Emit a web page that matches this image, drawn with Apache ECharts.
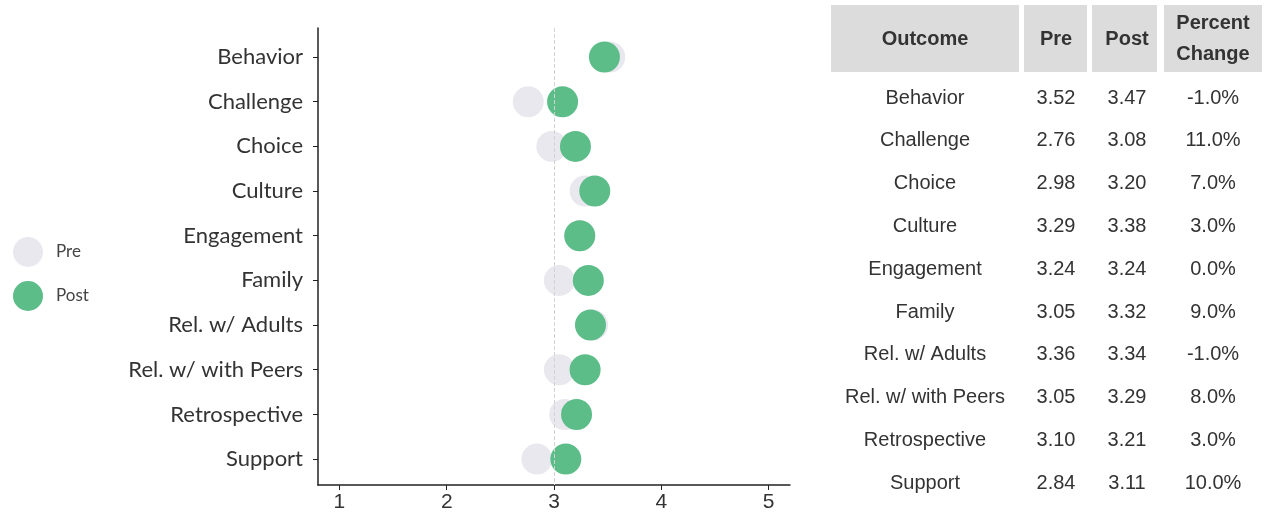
<!DOCTYPE html>
<html>
<head>
<meta charset="utf-8">
<script src="https://cdn.jsdelivr.net/npm/echarts@6/dist/echarts.min.js"></script>
<style>
html,body{margin:0;padding:0;background:#fff;}
#main{width:1264px;height:519px;}
</style>
</head>
<body>
<div id="main"></div>
<script>
var categories = ['Behavior','Challenge','Choice','Culture','Engagement','Family','Rel. w/ Adults','Rel. w/ with Peers','Retrospective','Support'];
var preValues = [3.52,2.76,2.98,3.29,3.24,3.05,3.36,3.05,3.10,2.84];
var postValues = [3.47,3.08,3.20,3.38,3.24,3.32,3.34,3.29,3.21,3.11];
var pctChange = [-1.0,11.0,7.0,3.0,0.0,9.0,-1.0,8.0,3.0,10.0];
var xTicks = [1,2,3,4,5];
var tableHeaders = ['Outcome','Pre','Post','Percent\nChange'];

var chart = echarts.init(document.getElementById('main'));

var preData = categories.map(function(c,i){return [preValues[i], i];});
var postData = categories.map(function(c,i){return [postValues[i], i];});
var catIdx = categories.map(function(c,i){return i;});

// table graphics
var colX = [925, 1056, 1127, 1213];
var headBoxes = [[831,188],[1024,63],[1092,65],[1164,98]];
var graphics = [];
headBoxes.forEach(function(b,j){
  graphics.push({type:'rect', shape:{x:b[0], y:5, width:b[1], height:67}, style:{fill:'#dcdcdc'}, silent:true});
  graphics.push({type:'text', x:colX[j], y:39, style:{text:tableHeaders[j], fill:'#333', font:'bold 20px "Liberation Sans", Arial, sans-serif', align:'center', verticalAlign:'middle', lineHeight:31}, silent:true});
});
categories.forEach(function(c,i){
  var y = 98 + i*42.8;
  var vals = [c, preValues[i].toFixed(2), postValues[i].toFixed(2), pctChange[i].toFixed(1)+'%'];
  vals.forEach(function(v,j){
    graphics.push({type:'text', x:colX[j], y:y, style:{text:v, fill:'#333', font:'20px "Liberation Sans", Arial, sans-serif', align:'center', verticalAlign:'middle'}, silent:true});
  });
});

chart.setOption({
  animation:false,
  backgroundColor:'#fff',
  legend:{
    orient:'vertical', left:8, top:232,
    itemWidth:30, itemHeight:30, itemGap:14,
    icon:'circle',
    textStyle:{fontFamily:'Lato', fontSize:17, color:'#444', padding:[0,0,0,8]},
    data:['Pre','Post']
  },
  grid:{left:318, right:474, top:28, bottom:34},
  xAxis:{
    type:'value', min:0.8, max:5.2,
    splitLine:{show:false},
    axisLine:{show:true, onZero:false, lineStyle:{color:'#222', width:1.5}},
    axisTick:{show:true, length:5, lineStyle:{color:'#222'}, customValues:xTicks},
    axisLabel:{customValues:xTicks, color:'#333', fontSize:21, fontFamily:'Liberation Sans', margin:7}
  },
  yAxis:{
    type:'value', inverse:true, min:-0.65, max:9.58,
    splitLine:{show:false},
    axisLine:{show:true, onZero:false, lineStyle:{color:'#222', width:1.5}},
    axisTick:{show:true, length:5, lineStyle:{color:'#222'}, customValues:catIdx},
    axisLabel:{customValues:catIdx, formatter:function(v){return categories[Math.round(v)];}, color:'#333', fontSize:22, fontFamily:'Lato', margin:15}
  },
  series:[
    {
      name:'Pre', type:'scatter', data:preData, symbolSize:31,
      itemStyle:{color:'#eae8ef', opacity:1},
      z:2,
      markLine:{
        silent:true, symbol:'none', label:{show:false},
        lineStyle:{color:'#d2d2d2', type:'dashed', width:1},
        data:[{xAxis:3}]
      }
    },
    {
      name:'Post', type:'scatter', data:postData, symbolSize:31,
      itemStyle:{color:'#5cbd88', opacity:1},
      z:3
    }
  ],
  graphic:graphics
});
</script>
</body>
</html>
